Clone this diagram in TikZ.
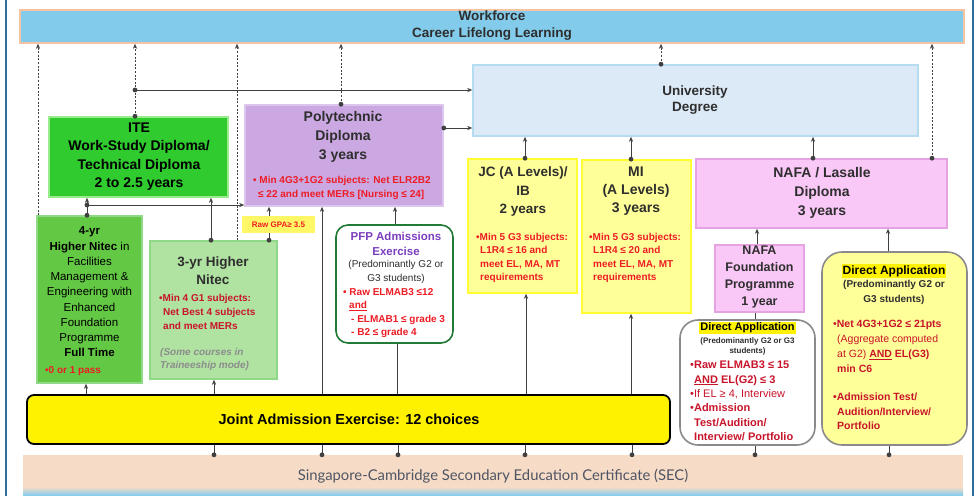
\documentclass[tikz,border=0pt]{standalone}
\usepackage{fontspec}
\setmainfont{Liberation Sans}
\newfontfamily\latofont{Lato}
\usetikzlibrary{arrows.meta}
\definecolor{wfblue}{HTML}{82CBEA}
\definecolor{wfborder}{HTML}{F5C3A3}
\definecolor{unifill}{HTML}{DCE9F6}
\definecolor{uniborder}{HTML}{B5DDF2}
\definecolor{polyfill}{HTML}{CBA8E2}
\definecolor{polyborder}{HTML}{DCC6EE}
\definecolor{itefill}{HTML}{2FCB2F}
\definecolor{iteborder}{HTML}{98EC8C}
\definecolor{fourfill}{HTML}{63C844}
\definecolor{threefill}{HTML}{B0E3A2}
\definecolor{gborder}{HTML}{8ED888}
\definecolor{lyellow}{HTML}{FFFF99}
\definecolor{yborder}{HTML}{FFFF33}
\definecolor{pinkfill}{HTML}{FAC8F7}
\definecolor{pinkborder}{HTML}{E6A2E3}
\definecolor{pfpgreen}{HTML}{217A35}
\definecolor{pfppurple}{HTML}{7A3FBF}
\definecolor{redA}{HTML}{EE1C24}
\definecolor{redB}{HTML}{C8142A}
\definecolor{greyit}{HTML}{8C8C8C}
\definecolor{dagrey}{HTML}{8A8A8A}
\definecolor{secpeach}{HTML}{F6DCC6}
\definecolor{secsky}{HTML}{86CDEE}
\definecolor{sectext}{HTML}{4F5464}
\definecolor{framec}{HTML}{2D6E9C}
\definecolor{linec}{HTML}{404040}
\definecolor{subgrey}{HTML}{2E2E2E}
\newcommand{\mydot}[1]{\fill[linec] #1 circle (2.4);}
\begin{document}
\begin{tikzpicture}[x=1pt,y=-1pt,
  bx/.style={inner sep=0pt, line width=1.6pt},
  txt/.style={inner sep=0pt, align=center},
  ltxt/.style={inner sep=0pt, align=left, anchor=west},
  ln/.style={draw=linec, line width=0.9pt},
  arr/.style={ln, -{Stealth[length=5pt,width=4.2pt]}},
  dsh/.style={ln, dash pattern=on 2pt off 1.6pt, -{Stealth[length=5pt,width=4.2pt]}},
  hl/.style={inner sep=1pt, fill=yellow}]
\useasboundingbox (0,0) rectangle (979,498);
\fill[white] (0,0) rectangle (979,498);
% frame
\draw[framec, line width=2pt] (6,0) -- (6,496);
\draw[framec, line width=2pt] (973,0) -- (973,496);
% x coordinates
\foreach \xx in {38,86,87,135,211,214,237,269,322,341,395,397,398,525,526,631,632,661,755,757,813,888,889,932}
  {\coordinate (X\xx) at (\xx,0);}
\coordinate (Y128) at (0,128);
\coordinate (J1) at (135,90);
\coordinate (J2) at (87,205);
% boxes
\node[bx, draw=wfborder, fill=wfblue, minimum width=944pt, minimum height=33pt] (wf) at (492,26.5) {};
\node[bx, draw=uniborder, fill=unifill, minimum width=445pt, minimum height=71pt] (uni) at (695.5,100.5) {};
\node[bx, draw=polyborder, fill=polyfill, minimum width=198pt, minimum height=101pt] (poly) at (344,155.5) {};
\node[bx, draw=iteborder, fill=itefill, minimum width=179pt, minimum height=80pt] (ite) at (138.5,157) {};
\node[bx, draw=gborder, fill=fourfill, minimum width=105pt, minimum height=167pt] (four) at (89.5,299.5) {};
\node[bx, draw=gborder, fill=threefill, minimum width=127pt, minimum height=138pt] (three) at (213.5,310) {};
\node[bx, draw=pfpgreen, fill=white, rounded corners=12pt, minimum width=117pt, minimum height=118pt] (pfp) at (394.5,284) {};
\node[bx, draw=yborder, fill=lyellow, minimum width=109pt, minimum height=134pt] (jc) at (522.5,226) {};
\node[bx, draw=yborder, fill=lyellow, minimum width=109pt, minimum height=153pt] (mi) at (636.5,236.5) {};
\node[bx, draw=pinkborder, fill=pinkfill, minimum width=251pt, minimum height=69pt] (nafa) at (821.5,193.5) {};
\node[bx, draw=pinkborder, fill=pinkfill, minimum width=89pt, minimum height=67pt] (nfp) at (759.5,278.5) {};
\node[bx, draw=dagrey, fill=lyellow, rounded corners=20pt, minimum width=145pt, minimum height=193pt] (day) at (894.5,348.5) {};
\node[bx, draw=dagrey, fill=white, rounded corners=18pt, minimum width=135pt, minimum height=125pt] (daw) at (747.5,382.5) {};
\node[bx, draw=black, line width=1.8pt, fill=yellow, rounded corners=7pt, minimum width=643pt, minimum height=49pt] (jae) at (348.5,419.5) {};
\node[inner sep=0pt, fill=secpeach, minimum width=940pt, minimum height=40pt] (sec) at (493,475) {};
\fill[top color=secpeach, bottom color=secsky] (23,487) rectangle (963,495);
% connectors to workforce
\draw[dsh] (four.north -| X38) -- (wf.south -| X38);
\draw[dsh] (ite.north -| X135) -- (wf.south -| X135);
\mydot{(ite.north -| X135)} \mydot{(J1)}
\draw[arr] (J1) -- (uni.west |- J1);
\draw[dsh] (three.north -| X237) -- (wf.south -| X237);
\draw[dsh] (poly.north -| X341) -- (wf.south -| X341); \mydot{(poly.north -| X341)}
\draw[dsh] (uni.north -| X661) -- (wf.south -| X661); \mydot{(uni.north -| X661)}
\draw[dsh] (nafa.north -| X932) -- (wf.south -| X932); \mydot{(nafa.north -| X932)}
% poly -> uni
\draw[arr] (poly.east |- Y128) -- (uni.west |- Y128); \mydot{(poly.east |- Y128)}
% ITE area
\draw[arr] (four.north -| X87) -- (ite.south -| X87); \mydot{(four.north -| X87)}
\draw[arr] (J2) -- (poly.west |- J2); \mydot{(J2)}
\draw[arr] (three.north -| X211) -- (ite.south -| X211); \mydot{(three.north -| X211)}
\draw[arr] (three.north -| X269) -- (poly.south -| X269); \mydot{(three.north -| X269)}
% JAE up
\draw[arr] (jae.north -| X86) -- (four.south -| X86);
\draw[arr] (jae.north -| X214) -- (three.south -| X214);
\draw[arr] (jae.north -| X322) -- (poly.south -| X322);
\draw[ln] (jae.north -| X397) -- (pfp.south -| X397);
\draw[arr] (pfp.north -| X395) -- (poly.south -| X395);
\draw[arr] (jae.north -| X526) -- (jc.south -| X526);
\draw[arr] (jae.north -| X631) -- (mi.south -| X631);
% SEC up
\foreach \xx in {214,322,398,525,632}
  {\draw[ln] (sec.north -| X\xx) -- (jae.south -| X\xx); \mydot{(sec.north -| X\xx)}}
\draw[ln] (sec.north -| X755) -- (daw.south -| X755); \mydot{(sec.north -| X755)}
\draw[ln] (sec.north -| X889) -- (day.south -| X889); \mydot{(sec.north -| X889)}
% to university
\draw[arr] (jc.north -| X525) -- (uni.south -| X525); \mydot{(jc.north -| X525)}
\draw[arr] (mi.north -| X631) -- (uni.south -| X631); \mydot{(mi.north -| X631)}
\draw[arr] (nafa.north -| X813) -- (uni.south -| X813); \mydot{(nafa.north -| X813)}
% to NAFA
\draw[arr] (nfp.north -| X757) -- (nafa.south -| X757);
\draw[arr] (day.north -| X888) -- (nafa.south -| X888);
\draw[ln] (daw.north -| X755) -- (nfp.south -| X755);
% GPA label
\node[inner sep=0pt, fill=yellow!60!white, minimum width=73pt, minimum height=17pt, text=redA, font=\fontsize{8}{9}\selectfont\bfseries] (gpa) at (278.5,224.5) {Raw GPA≥ 3.5};
% texts
\node[txt, font=\fontsize{13.5}{17}\selectfont\bfseries, text=subgrey] (wft) at (492,26) {Workforce\\Career Lifelong Learning};
\node[txt, font=\fontsize{13.5}{16}\selectfont\bfseries, text=subgrey] (unit) at (695,100) {University\\Degree};
\node[txt, font=\fontsize{14}{19}\selectfont\bfseries, text=subgrey] (polyt) at (343,137) {Polytechnic\\Diploma\\3 years};
\node[ltxt, font=\fontsize{10}{13.5}\selectfont\bfseries, text=redA] (polyr) at (253,188) {• Min 4G3+1G2 subjects: Net ELR2B2\\\hspace{5pt}≤ 22 and meet MERs [Nursing ≤ 24]};
\node[txt, font=\fontsize{14}{18.3}\selectfont\bfseries] (itet) at (139,156.5) {ITE\\Work-Study Diploma/\\Technical Diploma\\2 to 2.5 years};
\node[txt, font=\fontsize{11.5}{15.25}\selectfont] (fourt) at (89.5,292) {\textbf{4-yr}\\\textbf{Higher Nitec} in\\Facilities\\Management \&\\Engineering with\\Enhanced\\Foundation\\Programme\\\textbf{Full Time}};
\node[ltxt, font=\fontsize{10}{12}\selectfont\bfseries, text=redA] (fourr) at (45,371) {•0 or 1 pass};
\node[txt, font=\fontsize{13.5}{18}\selectfont\bfseries, text=subgrey] (threet) at (213,271) {3-yr Higher\\Nitec};
\node[ltxt, font=\fontsize{10}{14}\selectfont\bfseries, text=redB] (threer) at (159,312) {•Min 4 G1 subjects:\\\hspace{4pt}Net Best 4 subjects\\\hspace{4pt}and meet MERs};
\node[ltxt, font=\fontsize{10}{13.5}\selectfont\bfseries\itshape, text=greyit] (threeg) at (160,359.5) {(Some courses in\\Traineeship mode)};
\node[txt, font=\fontsize{11.5}{15}\selectfont\bfseries, text=pfppurple] (pfpt) at (396,243.5) {PFP Admissions\\Exercise};
\node[txt, font=\fontsize{10}{14}\selectfont, text=subgrey] (pfps) at (396,272) {(Predominantly G2 or\\G3 students)};
\node[ltxt, font=\fontsize{10}{13.5}\selectfont\bfseries, text=redA] (pfpr) at (343,313) {• Raw ELMAB3 ≤12\\\hspace{6pt}\underline{and}\\\hspace{8pt}- ELMAB1 ≤ grade 3\\\hspace{8pt}- B2 ≤ grade 4};
\node[txt, font=\fontsize{13.5}{18.5}\selectfont\bfseries, text=subgrey] (jct) at (523,192) {JC (A Levels)/\\IB\\2 years};
\node[ltxt, font=\fontsize{10}{13.5}\selectfont\bfseries, text=redA] (jcr) at (476,258) {•Min 5 G3 subjects:\\\hspace{4pt}L1R4 ≤ 16 and\\\hspace{4pt}meet EL, MA, MT\\\hspace{4pt}requirements};
\node[txt, font=\fontsize{14}{18}\selectfont\bfseries, text=subgrey] (mit) at (636,191) {MI\\(A Levels)\\3 years};
\node[ltxt, font=\fontsize{10}{13.5}\selectfont\bfseries, text=redA] (mir) at (589,258) {•Min 5 G3 subjects:\\\hspace{4pt}L1R4 ≤ 20 and\\\hspace{4pt}meet EL, MA, MT\\\hspace{4pt}requirements};
\node[txt, font=\fontsize{14}{19}\selectfont\bfseries, text=subgrey] (nafat) at (822,193) {NAFA / Lasalle\\Diploma\\3 years};
\node[txt, font=\fontsize{12.5}{16.7}\selectfont\bfseries, text=subgrey] (nfpt) at (759.5,277) {NAFA\\Foundation\\Programme\\1 year};
\node[hl, font=\fontsize{12}{14}\selectfont\bfseries] (dayt) at (894,271) {Direct Application};
\node[txt, font=\fontsize{10}{15}\selectfont\bfseries, text=subgrey] (days) at (894,292.5) {(Predominantly G2 or\\G3 students)};
\node[ltxt, font=\fontsize{10.5}{15}\selectfont, text=redB] (dayr1) at (833,346.5) {•\textbf{Net 4G3+1G2 ≤ 21pts}\\\hspace{4pt}(Aggregate computed\\\hspace{4pt}at G2) \textbf{\underline{AND} EL(G3)}\\\hspace{4pt}\textbf{min C6}};
\node[ltxt, font=\fontsize{10.5}{14.5}\selectfont\bfseries, text=redB] (dayr2) at (833,411.5) {•Admission Test/\\\hspace{4pt}Audition/Interview/\\\hspace{4pt}Portfolio};
\node[hl, font=\fontsize{11}{13}\selectfont\bfseries] (dawt) at (747.5,328) {Direct Application};
\node[txt, font=\fontsize{8}{10}\selectfont\bfseries, text=subgrey] (daws) at (747.5,346) {(Predominantly G2 or G3\\students)};
\node[ltxt, font=\fontsize{11}{14.4}\selectfont, text=redB] (dawr) at (690,401) {•\textbf{Raw ELMAB3 ≤ 15}\\\hspace{4pt}\textbf{\underline{AND} EL(G2) ≤ 3}\\•If EL ≥ 4, Interview\\•\textbf{Admission}\\\hspace{4pt}\textbf{Test/Audition/}\\\hspace{4pt}\textbf{Interview/ Portfolio}};
\node[txt, font=\fontsize{14.5}{17}\selectfont\bfseries] (jaet) at (349,419) {Joint Admission Exercise: 12 choices};
\node[txt, font=\latofont\fontsize{14.8}{17}\selectfont, text=sectext] (sect) at (493,476) {Singapore-Cambridge Secondary Education Certificate (SEC)};
\end{tikzpicture}
\end{document}
